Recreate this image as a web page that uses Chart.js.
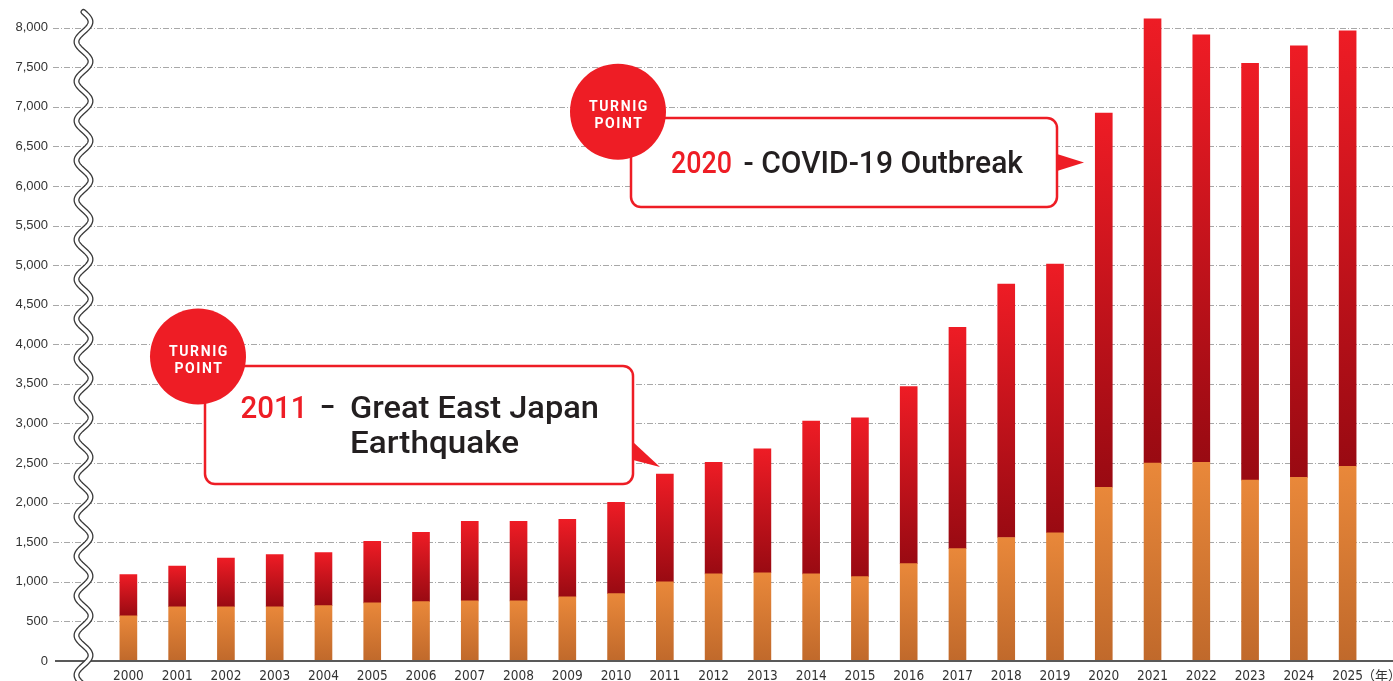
<!DOCTYPE html>
<html>
<head>
<meta charset="utf-8">
<style>
  html, body { margin: 0; padding: 0; background: #fff; overflow: hidden; }
  canvas { display: block; }
</style>
<script src="https://cdn.jsdelivr.net/npm/chart.js@4.4.1/dist/chart.umd.min.js"></script>
</head>
<body>
<canvas id="chart" width="1393" height="681"></canvas>
<script>
// data
const years = ['2000','2001','2002','2003','2004','2005','2006','2007','2008','2009','2010','2011','2012',
  '2013','2014','2015','2016','2017','2018','2019','2020','2021','2022','2023','2024','2025'];
// lower (orange) segment
const baseValues = [570, 685, 685, 685, 700, 735, 750, 760, 760, 810, 850, 1000, 1100,
  1115, 1100, 1065, 1230, 1420, 1560, 1620, 2195, 2500, 2510, 2285, 2320, 2460];
// upper (red) segment
const topValues = [520, 515, 615, 660, 670, 775, 875, 1005, 1005, 980, 1155, 1360, 1410,
  1565, 1930, 2005, 2235, 2795, 3200, 3395, 4725, 5610, 5400, 5265, 5450, 5500];
const yTicks = [0, 500, 1000, 1500, 2000, 2500, 3000, 3500, 4000, 4500, 5000, 5500, 6000, 6500, 7000, 7500, 8000];
const yearUnit = '（年）';

const RED = '#ee1d25';
const INK = '#231f20';

// vertical gradient for each bar segment
function segFill(lowerOf, upperOf, cTop, cBottom) {
  return ctx => {
    const chart = ctx.chart;
    const y = chart.scales.y;
    if (!chart.chartArea || !y || ctx.dataIndex == null) return cTop;
    const i = ctx.dataIndex;
    const yTop = y.getPixelForValue(upperOf(i));
    const yBot = y.getPixelForValue(lowerOf(i));
    if (!isFinite(yTop) || !isFinite(yBot) || yTop === yBot) return cTop;
    const g = chart.ctx.createLinearGradient(0, yTop, 0, yBot);
    g.addColorStop(0, cTop);
    g.addColorStop(1, cBottom);
    return g;
  };
}

// dashed grid + baseline
const gridPlugin = {
  id: 'grid',
  beforeDatasetsDraw(chart) {
    const { ctx, scales: { y } } = chart;
    ctx.save();
    ctx.strokeStyle = '#a8a8a8';
    ctx.lineWidth = 1;
    ctx.setLineDash([6, 2, 1, 2]);
    yTicks.forEach(v => {
      if (v === 0) return;
      const py = Math.round(y.getPixelForValue(v)) + 0.5;
      ctx.beginPath();
      ctx.moveTo(53, py);
      ctx.lineTo(chart.width, py);
      ctx.stroke();
    });
    ctx.restore();
  },
  afterDatasetsDraw(chart) {
    const { ctx, scales: { y } } = chart;
    const py = y.getPixelForValue(0);
    ctx.save();
    ctx.strokeStyle = '#595959';
    ctx.lineWidth = 2;
    ctx.beginPath();
    ctx.moveTo(55, py);
    ctx.lineTo(chart.width, py);
    ctx.stroke();
    ctx.restore();
  }
};

function fitText(ctx, text, x, y, w, font, color) {
  ctx.font = font;
  const m = ctx.measureText(text).width;
  ctx.save();
  ctx.translate(x, y);
  ctx.scale(w / m, 1);
  ctx.fillStyle = color;
  ctx.textAlign = 'left';
  ctx.textBaseline = 'alphabetic';
  ctx.fillText(text, 0, 0);
  ctx.restore();
}

function drawCallout(ctx, c) {
  ctx.save();
  // box
  ctx.beginPath();
  ctx.roundRect(c.box[0], c.box[1], c.box[2], c.box[3], 10);
  ctx.fillStyle = '#fff';
  ctx.fill();
  ctx.strokeStyle = RED;
  ctx.lineWidth = 2.5;
  ctx.stroke();
  // pointer
  ctx.beginPath();
  ctx.moveTo(c.pointer[0][0], c.pointer[0][1]);
  ctx.lineTo(c.pointer[1][0], c.pointer[1][1]);
  ctx.lineTo(c.pointer[2][0], c.pointer[2][1]);
  ctx.closePath();
  ctx.fillStyle = RED;
  ctx.fill();
  // badge
  ctx.beginPath();
  ctx.arc(c.badge[0], c.badge[1], 48, 0, Math.PI * 2);
  ctx.fillStyle = RED;
  ctx.fill();
  ctx.fillStyle = '#fff';
  ctx.font = 'bold 14px Roboto, "DejaVu Sans", sans-serif';
  ctx.textAlign = 'center';
  ctx.textBaseline = 'alphabetic';
  ctx.letterSpacing = '1.6px';
  ctx.fillText('TURNIG', c.badge[0] + 1, c.badge[1] - 0.5);
  ctx.fillText('POINT', c.badge[0] + 1, c.badge[1] + 16.5);
  ctx.letterSpacing = '0px';
  ctx.restore();
  const f = '500 32px Roboto, "DejaVu Sans", sans-serif';
  c.texts.forEach(t => fitText(ctx, t[0], t[1], t[2], t[3], f, t[4]));
}

const decorPlugin = {
  id: 'decor',
  afterDraw(chart) {
    const { ctx, scales: { y } } = chart;
    // axis break wave
    const period = y.getPixelForValue(0) - y.getPixelForValue(500);
    ctx.save();
    ctx.beginPath();
    for (let py = 12; py <= chart.height + 2; py += 1) {
      const px = 83.5 + 7 * Math.sin((py - 12) * 2 * Math.PI / period);
      if (py === 12) ctx.moveTo(px, py); else ctx.lineTo(px, py);
    }
    ctx.lineCap = 'round';
    ctx.strokeStyle = '#3a3a3a';
    ctx.lineWidth = 6;
    ctx.stroke();
    ctx.strokeStyle = '#fff';
    ctx.lineWidth = 3.4;
    ctx.stroke();
    ctx.restore();

    // year unit
    ctx.save();
    ctx.fillStyle = '#333';
    ctx.font = '13px "Noto Sans CJK JP", sans-serif';
    ctx.textAlign = 'left';
    ctx.textBaseline = 'middle';
    ctx.fillText(yearUnit, 1362, 675);
    ctx.restore();

    drawCallout(ctx, {
      box: [205, 366, 428, 118],
      pointer: [[633, 442], [660, 467], [633, 460]],
      badge: [198, 356.5],
      texts: [
        ['2011', 240.5, 418, 67, RED],
        ['\u2013', 320, 418, 15, INK],
        ['Great East Japan', 350, 418, 249, INK],
        ['Earthquake', 350, 453, 169, INK]
      ]
    });
    drawCallout(ctx, {
      box: [631, 118, 426, 89],
      pointer: [[1057, 154], [1084, 162.5], [1057, 171]],
      badge: [618, 111.7],
      texts: [
        ['2020', 671, 173, 61, RED],
        ['- COVID-19 Outbreak', 743.5, 173, 279.5, INK]
      ]
    });
  }
};

new Chart(document.getElementById('chart'), {
  type: 'bar',
  data: {
    labels: years,
    datasets: [
      {
        label: 'base',
        data: baseValues,
        backgroundColor: segFill(i => 0, i => baseValues[i], '#e9883a', '#c0692b'),
        barThickness: 17,
        borderWidth: 0
      },
      {
        label: 'top',
        data: topValues,
        backgroundColor: segFill(i => baseValues[i], i => baseValues[i] + topValues[i], '#ee1c25', '#990a12'),
        barThickness: 17,
        borderWidth: 0
      }
    ]
  },
  options: {
    responsive: false,
    animation: false,
    devicePixelRatio: 1,
    layout: { padding: { left: 0, right: 21, top: 0, bottom: 0 } },
    plugins: { legend: { display: false }, tooltip: { enabled: false } },
    scales: {
      x: {
        stacked: true,
        offset: true,
        grid: { display: false, drawTicks: false },
        border: { display: false },
        ticks: {
          autoSkip: false,
          maxRotation: 0,
          padding: 7,
          color: '#333',
          font: { family: '"Liberation Sans Narrow", "DejaVu Sans Condensed", sans-serif', size: 13.5 }
        },
        afterFit: s => { s.height = 20; }
      },
      y: {
        stacked: true,
        min: 0,
        max: 8200,
        // tickLength pushes labels left without adding vertical padding
        grid: { display: false, drawTicks: true, tickLength: 52 },
        border: { display: false },
        ticks: {
          padding: 4,
          color: '#333',
          font: { family: '"Liberation Sans", Arial, sans-serif', size: 13 },
          callback: v => Number(v).toLocaleString('en-US')
        },
        afterBuildTicks: s => { s.ticks = yTicks.map(v => ({ value: v })); },
        afterFit: s => { s.width = 104; }
      }
    }
  },
  plugins: [gridPlugin, decorPlugin]
});
</script>
</body>
</html>
